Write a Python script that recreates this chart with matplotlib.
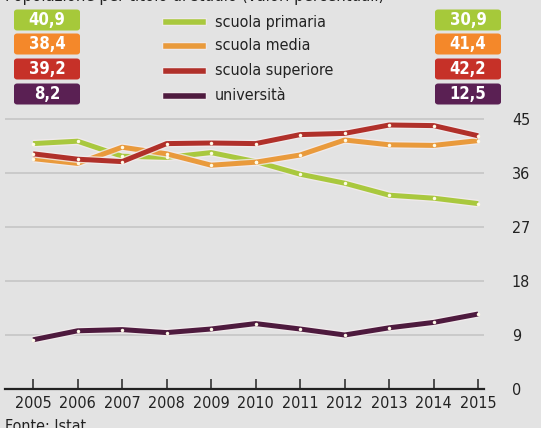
import matplotlib
matplotlib.use("Agg")
import matplotlib.pyplot as plt
import matplotlib.patheffects as pe
from matplotlib.patches import FancyBboxPatch

plt.rcParams['font.family'] = ['DejaVu Sans']
plt.rcParams['font.stretch'] = 'condensed'

years = [2005, 2006, 2007, 2008, 2009, 2010, 2011, 2012, 2013, 2014, 2015]
primaria = [40.9, 41.3, 38.8, 38.6, 39.4, 37.9, 35.8, 34.3, 32.3, 31.8, 30.9]
media = [38.4, 37.6, 40.3, 39.2, 37.3, 37.8, 39.0, 41.5, 40.7, 40.6, 41.4]
superiore = [39.2, 38.3, 37.9, 40.9, 41.0, 40.9, 42.4, 42.6, 44.0, 43.9, 42.2]
universita = [8.2, 9.7, 9.9, 9.4, 10.0, 10.9, 10.0, 9.0, 10.2, 11.1, 12.5]

names = ['scuola primaria', 'scuola media', 'scuola superiore', 'università']
series = [primaria, media, superiore, universita]
line_colors = ['#a9c83e', '#e99a3c', '#b0302a', '#4e1a3e']
box_colors = ['#a6c93a', '#f4882a', '#c63128', '#5a2053']
first_labels = ['40,9', '38,4', '39,2', '8,2']
last_labels = ['30,9', '41,4', '42,2', '12,5']
yticks = [0, 9, 18, 27, 36, 45]

W, H = 541, 428
bg = '#e3e3e3'
fig = plt.figure(figsize=(W / 100, H / 100), dpi=100, facecolor=bg)
ax = fig.add_axes([5 / W, 1 - 389 / H, 479 / W, 279 / H])
ax.set_facecolor(bg)

halo = [pe.Stroke(linewidth=5.5, foreground='#f4ecee', alpha=0.8), pe.Normal()]
for vals, col in zip(series, line_colors):
    ax.plot(years, vals, color=col, lw=3.6, solid_capstyle='butt',
            path_effects=halo, zorder=3)
    ax.plot(years, vals, ls='none', marker='o', ms=2.5, mfc='#fffbe8',
            mec='none', zorder=4)

ax.set_xlim(2004.37, 2015.13)
ax.set_ylim(0, 46.5)
for y in yticks[1:]:
    ax.axhline(y, color='#c8c8c8', lw=1.3, zorder=1)

for s in ['top', 'left', 'right']:
    ax.spines[s].set_visible(False)
ax.spines['bottom'].set_color('#222222')
ax.spines['bottom'].set_linewidth(1.6)

ax.set_xticks(years)
ax.set_xticklabels([str(y) for y in years], fontsize=11.5, color='#222222')
ax.tick_params(axis='x', direction='in', length=7, width=1.2, color='#333333', pad=5)
ax.set_yticks(yticks)
ax.set_yticklabels([str(y) for y in yticks], fontsize=11.5, color='#222222')
ax.tick_params(axis='y', left=False, labelleft=False, right=False,
               labelright=True, pad=20, length=0)

# legend and value boxes
rows = [20, 44, 69, 94]
for i, (name, col, bcol) in enumerate(zip(names, line_colors, box_colors)):
    yc = 1 - rows[i] / H
    for x0, lab in [(14, first_labels[i]), (435, last_labels[i])]:
        box = FancyBboxPatch((x0 / W, yc - 10.5 / H), 66 / W, 21 / H,
                             boxstyle='round,pad=0,rounding_size=0.006',
                             transform=fig.transFigure, facecolor=bcol,
                             edgecolor='none')
        fig.patches.append(box)
        fig.text((x0 + 33) / W, yc, lab, color='white', fontsize=12,
                 fontweight='bold', ha='center', va='center')
    ly = 1 - (rows[i] + 2) / H
    fig.add_artist(plt.Line2D([166 / W, 203 / W], [ly, ly], color=col, lw=4,
                              transform=fig.transFigure, path_effects=halo))
    fig.text(215 / W, ly, name, fontsize=11.5, color='#222222', va='center', ha='left')

fig.text(5 / W, 1 - 1 / H, 'Popolazione per titolo di studio (valori percentuali)',
         fontsize=12, color='#222222', va='baseline', ha='left')
fig.text(5 / W, 1 - 434 / H, 'Fonte: Istat', fontsize=11.5, color='#222222',
         va='bottom', ha='left')

fig.savefig('out.png', dpi=100, facecolor=bg)
